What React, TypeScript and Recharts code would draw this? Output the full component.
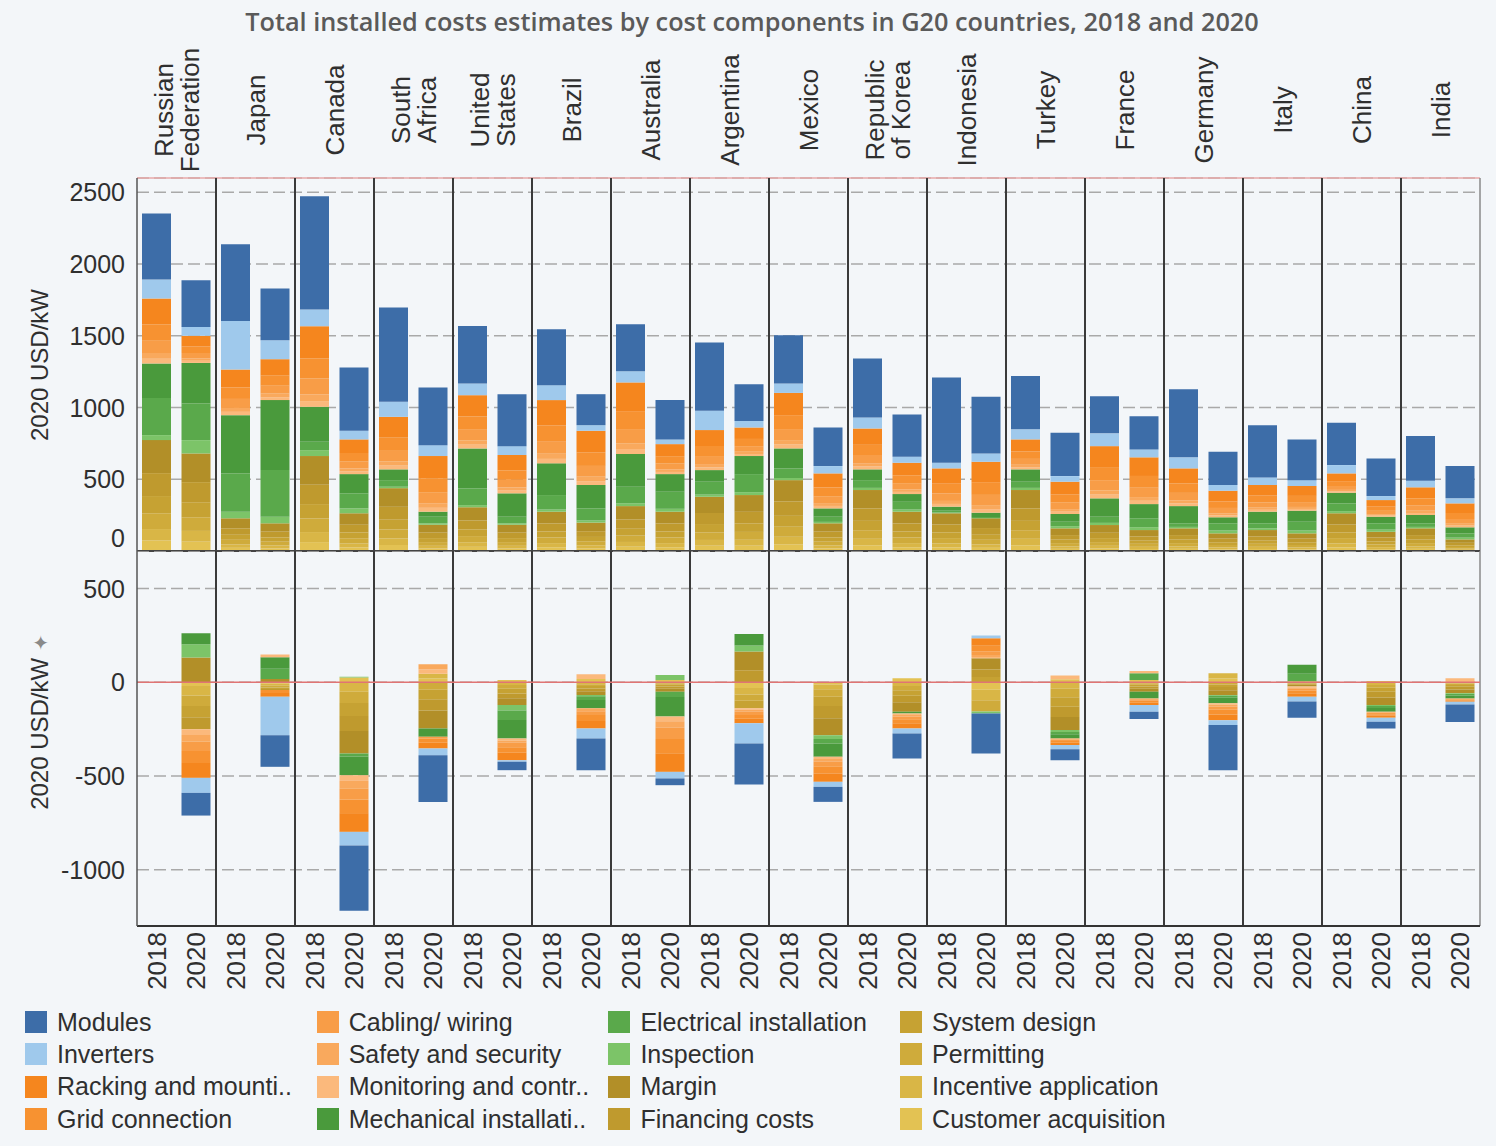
import React from 'react';
import { BarChart, Bar, XAxis, YAxis, CartesianGrid, ReferenceLine } from 'recharts';

const FONT = '"Liberation Sans", Arial, sans-serif';

const countries = [
  'Russian Federation', 'Japan', 'Canada', 'South Africa', 'United States', 'Brazil', 'Australia',
  'Argentina', 'Mexico', 'Republic of Korea', 'Indonesia', 'Turkey', 'France', 'Germany', 'Italy', 'China', 'India',
];
const countryLabelLines = [
  ['Russian', 'Federation'], ['Japan'], ['Canada'], ['South', 'Africa'], ['United', 'States'], ['Brazil'],
  ['Australia'], ['Argentina'], ['Mexico'], ['Republic', 'of Korea'], ['Indonesia'], ['Turkey'], ['France'],
  ['Germany'], ['Italy'], ['China'], ['India'],
];
const years = ['2018', '2020'];

const componentNames = [
  'Modules', 'Inverters', 'Racking and mounting', 'Grid connection', 'Cabling/ wiring', 'Safety and security',
  'Monitoring and control', 'Mechanical installation', 'Electrical installation', 'Inspection', 'Margin',
  'Financing costs', 'System design', 'Permitting', 'Incentive application', 'Customer acquisition',
];
const legendNames = [
  'Modules', 'Inverters', 'Racking and mounti..', 'Grid connection', 'Cabling/ wiring', 'Safety and security',
  'Monitoring and contr..', 'Mechanical installati..', 'Electrical installation', 'Inspection', 'Margin',
  'Financing costs', 'System design', 'Permitting', 'Incentive application', 'Customer acquisition',
];
const componentColors = [
  '#3d6da8', '#9fc9ec', '#f5861e', '#f79231', '#f89d47', '#f9a95d', '#fbb97c',
  '#4a9a3c', '#5aa94b', '#7cc468', '#b28f28', '#bf9a2e', '#c6a233', '#cfab3b', '#d9b646', '#e3c253',
];

const topTicks = [0, 500, 1000, 1500, 2000, 2500];
const diffTicks = [-1000, -500, 0, 500];

// Top panel: values per country, order 2018, 2020 for each country
const modules = [460, 325, 534, 360, 789, 441, 657, 402, 401, 362, 390, 216, 328, 274, 476, 256, 336, 269, 411, 295, 595, 395, 371, 302, 259, 232, 475, 232, 364, 284, 295, 262, 311, 225];
const inverters = [132, 62, 339, 132, 116, 60, 105, 76, 82, 62, 104, 39, 78, 33, 134, 46, 66, 51, 77, 42, 39, 58, 70, 39, 89, 55, 77, 40, 53, 41, 58, 28, 46, 35];
const racking = [180, 75, 125, 115, 225, 95, 145, 155, 148, 107, 176, 150, 200, 84, 111, 80, 155, 98, 114, 87, 107, 142, 84, 90, 146, 130, 105, 74, 74, 69, 54, 46, 77, 67];
const gridConnection = [110, 45, 80, 70, 140, 60, 92, 97, 93, 66, 110, 95, 125, 52, 70, 50, 97, 61, 71, 55, 67, 89, 52, 56, 91, 82, 66, 46, 47, 43, 34, 29, 48, 42];
const cabling = [90, 38, 63, 55, 110, 48, 73, 77, 74, 53, 88, 75, 99, 41, 56, 39, 77, 48, 57, 43, 53, 71, 41, 45, 72, 65, 52, 37, 37, 34, 27, 23, 38, 33];
const safety = [40, 16, 27, 25, 47, 21, 30, 32, 30, 22, 36, 31, 40, 17, 23, 16, 31, 20, 23, 18, 21, 28, 17, 18, 29, 26, 21, 15, 15, 14, 11, 10, 16, 13];
const monitoring = [33, 15, 23, 20, 40, 18, 26, 27, 26, 19, 31, 27, 35, 15, 19, 14, 27, 17, 20, 15, 19, 25, 15, 16, 26, 23, 19, 13, 13, 12, 9, 8, 14, 12];
const mechanical = [241, 282, 406, 488, 244, 134, 75, 35, 278, 163, 221, 163, 228, 123, 81, 126, 139, 58, 75, 54, 28, 30, 86, 54, 128, 99, 120, 42, 81, 77, 74, 46, 58, 42];
const electrical = [258, 256, 267, 325, 58, 105, 46, 46, 117, 46, 101, 84, 115, 119, 90, 126, 67, 36, 54, 54, 13, 9, 43, 31, 43, 62, 25, 50, 35, 61, 54, 44, 25, 30];
const inspection = [35, 93, 46, 46, 41, 34, 10, 10, 15, 10, 15, 15, 20, 20, 15, 20, 15, 10, 15, 15, 5, 0, 15, 15, 15, 20, 10, 20, 12, 20, 15, 15, 10, 12];
const margin = [230, 200, 70, 58, 200, 80, 130, 55, 92, 55, 82, 60, 94, 82, 113, 117, 148, 58, 128, 82, 79, 68, 128, 47, 54, 44, 47, 37, 44, 37, 79, 40, 47, 24];
const financing = [160, 140, 45, 40, 135, 54, 90, 38, 62, 38, 56, 40, 64, 56, 77, 80, 101, 40, 87, 56, 54, 47, 87, 32, 37, 30, 32, 25, 30, 25, 54, 27, 32, 17];
const systemDesign = [120, 105, 35, 30, 100, 40, 68, 28, 47, 28, 42, 30, 48, 42, 58, 60, 76, 30, 65, 42, 40, 35, 65, 24, 28, 22, 24, 19, 22, 19, 40, 21, 24, 12];
const permitting = [110, 95, 32, 27, 95, 37, 62, 26, 43, 26, 39, 28, 44, 39, 53, 55, 70, 27, 60, 39, 37, 32, 60, 23, 26, 21, 23, 17, 21, 17, 37, 19, 23, 12];
const incentive = [80, 75, 24, 20, 70, 27, 46, 19, 32, 19, 29, 21, 33, 29, 40, 41, 52, 20, 45, 29, 28, 24, 45, 17, 19, 15, 17, 13, 15, 13, 28, 14, 17, 8];
const customer = [73, 65, 22, 18, 62, 25, 42, 17, 29, 17, 26, 19, 30, 26, 37, 37, 47, 18, 40, 26, 25, 22, 40, 15, 17, 14, 15, 12, 14, 12, 25, 13, 15, 8];

// Bottom panel: change 2018 -> 2020, one value per country
const dModules = [-121, -169, -348, -249, -45, -169, -36, -219, -80, -133, -214, -59, -39, -241, -86, -36, -93];
const dInverters = [-80, -205, -72, -36, -8, -54, -35, -107, -27, -27, 15, -22, -36, -26, -26, -21, -15];
const dRacking = [-80, -20, -100, -30, -40, -40, -100, -25, -45, -27, 40, -12, -12, -30, -18, -10, -7];
const dGrid = [-64, -16, -72, -23, -30, -32, -75, -20, -35, -22, 30, -10, -10, -25, -14, -9, -5];
const dCabling = [-50, 0, -60, -10, -24, -20, -60, -17, -27, -15, 20, -8, -8, -18, -10, -6, -4];
const dSafety = [-35, 0, -40, 26, -12, -15, -35, -10, -15, -8, 10, -5, -5, -10, -7, -4, -2];
const dMonitoring = [-30, 14, -30, 25, -10, 25, -25, -8, -12, -7, 7, 20, 12, -7, -5, -3, 21];
const dMechanical = [59, 62, -100, -44, -99, -45, -105, 61, -70, -10, 0, -23, -36, -30, 48, -20, -15];
const dElectrical = [0, 54, -16, 0, -50, -20, -28, 0, -25, 0, 0, -12, 36, -10, 40, -10, -8];
const dInspection = [71, 0, 5, 0, -30, -6, 27, 32, -20, 0, -10, -10, 0, -4, 0, -6, -4];
const dMargin = [132, 18, -120, -96, -36, -20, -15, 100, -90, -50, 60, -70, -15, -25, -8, -40, -20];
const dFinancing = [-64, -5, -80, -60, -25, -15, -12, 64, -65, -35, 40, -55, -12, -18, -5, -30, -15];
const dSystemDesign = [-60, -8, -70, -50, -25, -13, -10, -40, -50, -30, 28, -50, -10, -13, -4, -22, -10];
const dPermitting = [-57, -10, -60, -40, -20, -10, -8, -34, -40, -22, -60, -45, -8, -12, -3, -15, -8];
const dIncentive = [-50, -10, -50, 25, -15, -10, -5, -35, -25, -20, -56, -35, -5, 28, -3, -14, -6];
const dCustomer = [-20, -8, 25, 20, 12, 18, 12, -30, -12, 21, -40, 16, 12, 20, 5, 7, 0];

const topSeries = [modules, inverters, racking, gridConnection, cabling, safety, monitoring, mechanical, electrical, inspection, margin, financing, systemDesign, permitting, incentive, customer];
const diffSeries = [dModules, dInverters, dRacking, dGrid, dCabling, dSafety, dMonitoring, dMechanical, dElectrical, dInspection, dMargin, dFinancing, dSystemDesign, dPermitting, dIncentive, dCustomer];

const keys = componentNames.map((_, i) => `c${i}`);
const stackOrder = keys.map((_, i) => keys.length - 1 - i);

const topData = countries.flatMap((c, ci) =>
  years.map((yr, yi) => {
    const row: any = { key: `${ci}-${yr}`, country: c, year: yr };
    topSeries.forEach((arr, k) => { row[keys[k]] = arr[ci * 2 + yi]; });
    return row;
  })
);
const diffData = countries.flatMap((c, ci) =>
  years.map((yr, yi) => {
    const row: any = { key: `${ci}-${yr}`, country: c, year: yr };
    diffSeries.forEach((arr, k) => { row[keys[k]] = yi === 1 ? arr[ci] : null; });
    return row;
  })
);

// keys of the first band of each country (country boundaries) and the last band
const countryStartKeys = countries.map((_, ci) => `${ci}-${years[0]}`);
const lastKey = `${countries.length - 1}-${years[1]}`;

const CHART_W = 1496;
const PLOT_LEFT = 137;
const PLOT_RIGHT_MARGIN = 16;
const HALF_BAND = (CHART_W - PLOT_LEFT - PLOT_RIGHT_MARGIN) / topData.length / 2;

const CountryTick = (props: any) => {
  const { x, payload } = props;
  const [ci, yr] = String(payload.value).split('-');
  if (yr !== years[0]) return null;
  const lines = countryLabelLines[Number(ci)] || [];
  return (
    <g transform={`translate(${x + HALF_BAND},110) rotate(-90)`}>
      <text textAnchor="middle" dominantBaseline="central" fontSize={26} fill="#2f2f2f" fontFamily={FONT}>
        {lines.map((l, i) => (
          <tspan key={i} x={0} y={(i - (lines.length - 1) / 2) * 26} dominantBaseline="central">{l}</tspan>
        ))}
      </text>
    </g>
  );
};

const YearTick = (props: any) => {
  const { x, y, payload } = props;
  const yr = String(payload.value).split('-')[1];
  return (
    <text transform={`translate(${x},${y}) rotate(-90)`} textAnchor="end" dominantBaseline="central" fontSize={26} fill="#2f2f2f" fontFamily={FONT}>
      {yr}
    </text>
  );
};

const ValueTick = (shiftZero: boolean) => (props: any) => {
  const { x, y, payload } = props;
  const dy = shiftZero && payload.value === 0 ? -13 : 0;
  return (
    <text x={x} y={y + dy} textAnchor="end" dominantBaseline="central" fontSize={25} fill="#2f2f2f" fontFamily={FONT}>
      {payload.value}
    </text>
  );
};

const gridStroke = '#a9a9a9';
const sepStroke = '#3a3a3a';

export default function App() {
  return (
    <div style={{ position: 'relative', width: 1496, height: 1146, background: '#f3f6f9', overflow: 'hidden', fontFamily: FONT }}>
      <style>{'body{margin:0;background:#ffffff;}'}</style>
      <div style={{ position: 'absolute', left: 0, top: 4, width: 1504, textAlign: 'center', fontFamily: '"Open Sans", sans-serif', fontWeight: 600, fontSize: 25.3, color: '#5a5a5a' }}>
        Total installed costs estimates by cost components in G20 countries, 2018 and 2020
      </div>

      <div style={{ position: 'absolute', left: 0, top: 0 }}>
        <BarChart width={CHART_W} height={560} data={topData} margin={{ top: 0, right: PLOT_RIGHT_MARGIN, bottom: 0, left: 0 }} barSize={29}>
          <CartesianGrid vertical={false} stroke={gridStroke} strokeDasharray="12 5" strokeWidth={1.5} />
          <XAxis dataKey="key" tick={false} height={9} axisLine={{ stroke: '#444', strokeWidth: 2 }} tickLine={false} interval={0} />
          <XAxis xAxisId="top" dataKey="key" orientation="top" interval={0} height={178} tick={<CountryTick />}
            axisLine={false} tickLine={false} />
          <YAxis domain={[0, 2600]} ticks={topTicks} width={PLOT_LEFT} tick={ValueTick(true)} tickSize={0} tickMargin={12}
            axisLine={{ stroke: '#555', strokeWidth: 1.5 }} tickLine={false} allowDataOverflow />
          <ReferenceLine y={2600} stroke="#e9a9a9" strokeWidth={1.5} />
          {countryStartKeys.slice(1).map((k) => (
            <ReferenceLine key={k} x={k} position="start" stroke={sepStroke} strokeWidth={2} />
          ))}
          <ReferenceLine x={lastKey} position="end" stroke="#8a8a8a" strokeWidth={1.5} />
          {stackOrder.map((k) => (
            <Bar key={keys[k]} dataKey={keys[k]} name={componentNames[k]} stackId="a" fill={componentColors[k]} isAnimationActive={false} />
          ))}
        </BarChart>
      </div>

      <div style={{ position: 'absolute', left: 0, top: 551 }}>
        <BarChart width={CHART_W} height={450} data={diffData} margin={{ top: 0, right: PLOT_RIGHT_MARGIN, bottom: 0, left: 0 }} barSize={29} stackOffset="sign">
          <CartesianGrid vertical={false} stroke={gridStroke} strokeDasharray="12 5" strokeWidth={1.5} />
          <XAxis dataKey="key" height={75} tick={<YearTick />} tickSize={0} tickMargin={6} interval={0}
            axisLine={{ stroke: '#333', strokeWidth: 2 }} tickLine={false} />
          <YAxis domain={[-1300, 700]} ticks={diffTicks} width={PLOT_LEFT} tick={ValueTick(false)} tickSize={0} tickMargin={12}
            axisLine={{ stroke: '#555', strokeWidth: 1.5 }} tickLine={false} allowDataOverflow />
          {countryStartKeys.slice(1).map((k) => (
            <ReferenceLine key={k} x={k} position="start" stroke={sepStroke} strokeWidth={2} />
          ))}
          <ReferenceLine x={lastKey} position="end" stroke="#8a8a8a" strokeWidth={1.5} />
          {stackOrder.map((k) => (
            <Bar key={keys[k]} dataKey={keys[k]} name={componentNames[k]} stackId="d" fill={componentColors[k]} isAnimationActive={false} />
          ))}
          <ReferenceLine y={0} stroke="#e07474" strokeWidth={1.5} />
        </BarChart>
      </div>

      <div style={{ position: 'absolute', left: 40, top: 365, transform: 'translate(-50%,-50%) rotate(-90deg)', whiteSpace: 'nowrap', fontSize: 24, color: '#2f2f2f' }}>
        2020 USD/kW
      </div>
      <div style={{ position: 'absolute', left: 40, top: 722, transform: 'translate(-50%,-50%) rotate(-90deg)', whiteSpace: 'nowrap', fontSize: 24, color: '#2f2f2f' }}>
        2020 USD/kW <span style={{ color: '#8a8a8a', fontSize: 20 }}>✦</span>
      </div>

      {legendNames.map((n, i) => {
        const col = Math.floor(i / 4);
        const row = i % 4;
        return (
          <div key={n} style={{ position: 'absolute', left: 25 + col * 291.7, top: 1011 + row * 32.4, display: 'flex', alignItems: 'center', height: 22 }}>
            <div style={{ width: 22, height: 22, background: componentColors[i], marginRight: 10 }} />
            <span style={{ fontSize: 25, color: '#2f2f2f', whiteSpace: 'nowrap' }}>{n}</span>
          </div>
        );
      })}
    </div>
  );
}
